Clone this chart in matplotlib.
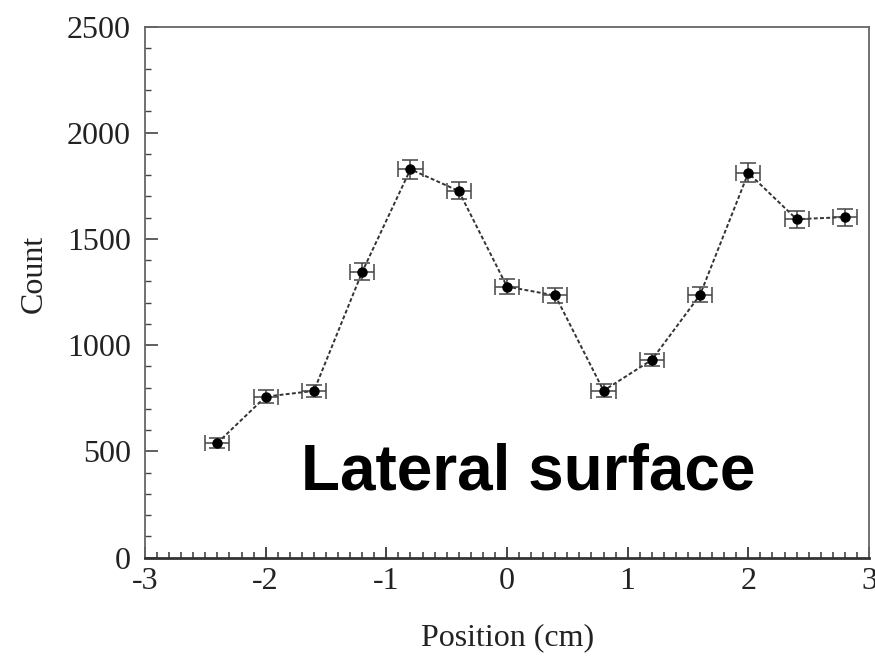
import matplotlib
matplotlib.use("Agg")
import matplotlib.pyplot as plt
from matplotlib.ticker import MultipleLocator

position = [-2.4, -2.0, -1.6, -1.2, -0.8, -0.4, 0.0, 0.4, 0.8, 1.2, 1.6, 2.0, 2.4, 2.8]
count = [540, 758, 785, 1345, 1828, 1726, 1276, 1234, 786, 931, 1237, 1811, 1593, 1603]
count_err = [25, 30, 30, 40, 45, 40, 35, 35, 30, 30, 35, 45, 40, 40]
position_err = [0.1] * len(position)
xticks = [-3, -2, -1, 0, 1, 2, 3]
yticks = [0, 500, 1000, 1500, 2000, 2500]

fig = plt.figure(figsize=(8.75, 6.58), dpi=100)
ax = fig.add_axes([145/875, 1-557.7/658, 724/875, (557.7-26.5)/658])

ax.errorbar(position, count, yerr=count_err, xerr=position_err,
            fmt='o', color='black', markersize=6.5, ecolor='#444444',
            elinewidth=1.1, capsize=5.5, capthick=1.1, zorder=3)
ax.plot(position, count, color='#333333', linewidth=1.4,
        linestyle=(0, (2, 1.2)), zorder=2)

ax.set_xlim(-3, 3)
ax.set_ylim(0, 2500)
ax.set_xticks(xticks)
ax.set_yticks(yticks)
ax.xaxis.set_minor_locator(MultipleLocator(0.1))
ax.yaxis.set_minor_locator(MultipleLocator(100))

serif = ['Liberation Serif', 'DejaVu Serif']
ax.set_xticklabels([str(t) for t in xticks], family=serif, fontsize=23)
ax.set_yticklabels([str(t) for t in yticks], family=serif, fontsize=23)
ax.tick_params(axis='both', which='both', direction='in', colors='#444444',
               top=False, right=False, labelcolor='#222222')
ax.tick_params(axis='y', which='major', length=9, width=1.2, pad=10)
ax.tick_params(axis='y', which='minor', length=4.5, width=1.0)
ax.tick_params(axis='x', which='major', length=8, width=1.4, pad=7)
ax.tick_params(axis='x', which='minor', length=4, width=1.2)

for side in ['left', 'right', 'top']:
    ax.spines[side].set_color('#666666')
    ax.spines[side].set_linewidth(1.3)
ax.spines['bottom'].set_color('#333333')
ax.spines['bottom'].set_linewidth(2.0)

ax.set_xlabel('Position (cm)', family=serif, fontsize=23, color='#222222')
ax.set_ylabel('Count', family=serif, fontsize=23, color='#222222')
ax.xaxis.set_label_coords(0.501, -0.123)
ax.yaxis.set_label_coords(-0.133, 0.534)

ax.text(-1.71, 319, 'Lateral surface', family=['Liberation Sans', 'DejaVu Sans'],
        fontweight='bold', fontsize=46, color='black', ha='left', va='baseline')

fig.savefig('out.png', dpi=100)
